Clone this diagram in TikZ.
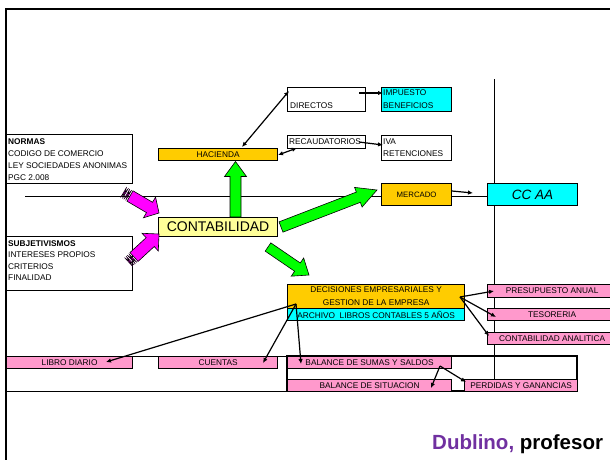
\documentclass[tikz,border=0pt]{standalone}
\usepackage{fontspec}
\setmainfont{Liberation Sans}
\usetikzlibrary{calc,arrows.meta}
\definecolor{orng}{HTML}{FFCC00}
\definecolor{cyn}{HTML}{00FFFF}
\definecolor{pnk}{HTML}{FF99CC}
\definecolor{lyel}{HTML}{FFFF99}
\definecolor{grn}{HTML}{00FF00}
\definecolor{mgn}{HTML}{FF00FF}
\definecolor{purp}{HTML}{7030A0}
\newcommand\blockarr[6]{%
  \coordinate (bA) at (#2); \coordinate (bB) at (#3);
  \coordinate (bC) at ($(bB)!#6!(bA)$);
  \filldraw[#1] ($(bA)!#4!90:(bB)$) -- ($(bC)!#4!90:(bB)$) -- ($(bC)!#5!90:(bB)$) -- (bB)
    -- ($(bC)!#5!-90:(bB)$) -- ($(bC)!#4!-90:(bB)$) -- ($(bA)!#4!-90:(bB)$) -- cycle;}
\newcommand\stripes[3]{%
  \coordinate (sA) at (#2); \coordinate (sB) at (#3);
  \foreach \a/\b in {-1.5pt/-3.7pt,-5.2pt/-7.4pt}{%
    \coordinate (s1) at ($(sA)!\a!(sB)$); \coordinate (s2) at ($(sA)!\b!(sB)$);
    \filldraw[#1, line width=0.4pt] ($(s1)!6pt!90:(sB)$) -- ($(s1)!6pt!-90:(sB)$) -- ($(s2)!6pt!90:(sA)$) -- ($(s2)!6pt!-90:(sA)$) -- cycle;}}
\begin{document}
\begin{tikzpicture}[x=1pt,y=-1pt,
  bx/.style={draw=black, line width=1.2pt, inner sep=0pt, anchor=north west, font=\fontsize{8.3}{13}\selectfont, align=center},
  txt/.style={inner sep=0pt, font=\fontsize{8.3}{12}\selectfont},
  thinln/.style={line width=0.8pt},
  frm/.style={line width=2.5pt},
  arr/.style={line width=1.2pt, -{Latex[length=5pt,width=4.5pt]}},
  dblarr/.style={line width=1.2pt, {Latex[length=5pt,width=4.5pt]}-{Latex[length=5pt,width=4.5pt]}},
  garr/.style={fill=grn, draw=black, line width=0.6pt},
  marr/.style={fill=mgn, draw=black, line width=0.6pt}]
\useasboundingbox (0,0) rectangle (610,459);
\clip (0,0) rectangle (610,459);
% frame and background lines
\draw[frm] (6,462) -- (6,9) -- (612,9);
\draw[thinln] (25,196) -- (487,196);
\draw[thinln] (494,79) -- (494,391);
\draw[thinln] (6,356) -- (577,356);
\draw[thinln] (6,391) -- (577,391);
\draw[line width=1.2pt] (287,356) rectangle (577,391);
% boxes
\node[bx, fill=orng, minimum width=119, minimum height=12] (hac) at (158,148) {HACIENDA};
\node[bx, fill=lyel, minimum width=119, minimum height=19, font=\fontsize{14}{16}\selectfont] (cont) at (158,217) {CONTABILIDAD};
\node[bx, minimum width=126, minimum height=49] (norm) at (6,134) {};
\node[txt, anchor=north west, align=left] (normt) at (8,138) {\textbf{NORMAS}\\CODIGO DE COMERCIO\\LEY SOCIEDADES ANONIMAS\\PGC 2.008};
\node[bx, minimum width=126, minimum height=54] (subj) at (6,236) {};
\node[txt, anchor=north west, align=left, font=\fontsize{8.3}{11.5}\selectfont] (subjt) at (8,240) {\textbf{SUBJETIVISMOS}\\INTERESES PROPIOS\\CRITERIOS\\FINALIDAD};
\node[bx, minimum width=78, minimum height=24] (dir) at (287,87) {};
\node[txt, anchor=base west] (dirt) at (290,108) {DIRECTOS};
\node[bx, fill=cyn, minimum width=70, minimum height=24] (imp) at (381,87) {};
\node[txt, anchor=base west] (impt1) at (383,95) {IMPUESTO};
\node[txt, anchor=base west] (impt2) at (383,108) {BENEFICIOS};
\node[bx, minimum width=78, minimum height=13] (rec) at (287,135) {};
\node[txt, anchor=base west] (rect) at (289,144.5) {RECAUDATORIOS};
\node[bx, minimum width=70, minimum height=25] (iva) at (381,135) {};
\node[txt, anchor=base west] (ivat1) at (383,144.5) {IVA};
\node[txt, anchor=base west] (ivat2) at (383,156) {RETENCIONES};
\node[bx, fill=orng, minimum width=70, minimum height=22, font=\fontsize{7.8}{9}\selectfont] (merc) at (381,183) {MERCADO};
\node[bx, fill=cyn, minimum width=90, minimum height=22, font=\fontsize{13.5}{15}\selectfont\itshape] (ccaa) at (487,183) {CC AA};
\node[bx, fill=orng, minimum width=177, minimum height=24] (dec) at (287,284) {DECISIONES EMPRESARIALES Y\\GESTION DE LA EMPRESA};
\node[bx, fill=cyn, minimum width=177, minimum height=12] (arch) at (287,308) {ARCHIVO\ \ LIBROS CONTABLES 5 AÑOS};
\node[bx, fill=pnk, minimum width=129, minimum height=13] (pres) at (487,284) {PRESUPUESTO ANUAL};
\node[bx, fill=pnk, minimum width=129, minimum height=12] (tes) at (487,308) {TESORERIA};
\node[bx, fill=pnk, minimum width=129, minimum height=12] (cana) at (487,332) {CONTABILIDAD ANALITICA};
\node[bx, fill=pnk, minimum width=126, minimum height=12] (lib) at (6,356) {LIBRO DIARIO};
\node[bx, fill=pnk, minimum width=119, minimum height=12] (cue) at (158,356) {CUENTAS};
\node[bx, fill=pnk, minimum width=164, minimum height=12] (bss) at (287,356) {BALANCE DE SUMAS Y SALDOS};
\node[bx, fill=pnk, minimum width=164, minimum height=12] (bsit) at (287,379) {BALANCE DE SITUACION};
\node[bx, fill=pnk, minimum width=113, minimum height=12] (pyg) at (464,379) {PERDIDAS Y GANANCIAS};
% block arrows
\stripes{marr}{130,196}{159,213}
\blockarr{marr}{130,196}{159,213}{6pt}{12pt}{11pt}
\stripes{marr}{134,257}{159,234}
\blockarr{marr}{134,257}{159,234}{6pt}{12pt}{12pt}
\blockarr{garr}{235.5,217}{235.5,161.5}{5.5pt}{11pt}{15pt}
\blockarr{garr}{281,227}{377,190}{5.5pt}{10.5pt}{20pt}
\blockarr{garr}{268,247}{309,275}{5pt}{11pt}{14pt}
% thin arrows
\coordinate (h1) at (242,147); \coordinate (d1) at (289,91);
\coordinate (h2) at (278,155); \coordinate (r1) at (297,148);
\coordinate (d2) at (359,93);  \coordinate (i1) at (383,93);
\coordinate (r2) at (359,142); \coordinate (v1) at (383,145);
\coordinate (m1) at (452,191); \coordinate (c1) at (473,193);
\coordinate (e1) at (460,297);
\coordinate (p1) at (494,291); \coordinate (t1) at (496,317); \coordinate (a1) at (489,336);
\coordinate (e2) at (296,304);
\coordinate (l1) at (106,362); \coordinate (u1) at (263,363); \coordinate (b1) at (301,364);
\coordinate (b2) at (440,366);
\coordinate (s1x) at (431,388); \coordinate (g1) at (466,382);
\draw[dblarr] (h1) -- (d1);
\draw[dblarr] (h2) -- (r1);
\draw[arr] (d2) -- (i1);
\draw[arr] (r2) -- (v1);
\draw[arr] (m1) -- (c1);
\draw[arr] (e1) -- (p1);
\draw[arr] (e1) -- (t1);
\draw[arr] (e1) -- (a1);
\draw[arr] (e2) -- (l1);
\draw[arr] (e2) -- (u1);
\draw[arr] (e2) -- (b1);
\draw[arr] (b2) -- (s1x);
\draw[arr] (b2) -- (g1);
% footer
\node[inner sep=0pt, anchor=base west, font=\fontsize{20.5}{24}\selectfont\bfseries] (foot) at (432,449) {\textcolor{purp}{Dublino,} profesor};
\end{tikzpicture}
\end{document}
